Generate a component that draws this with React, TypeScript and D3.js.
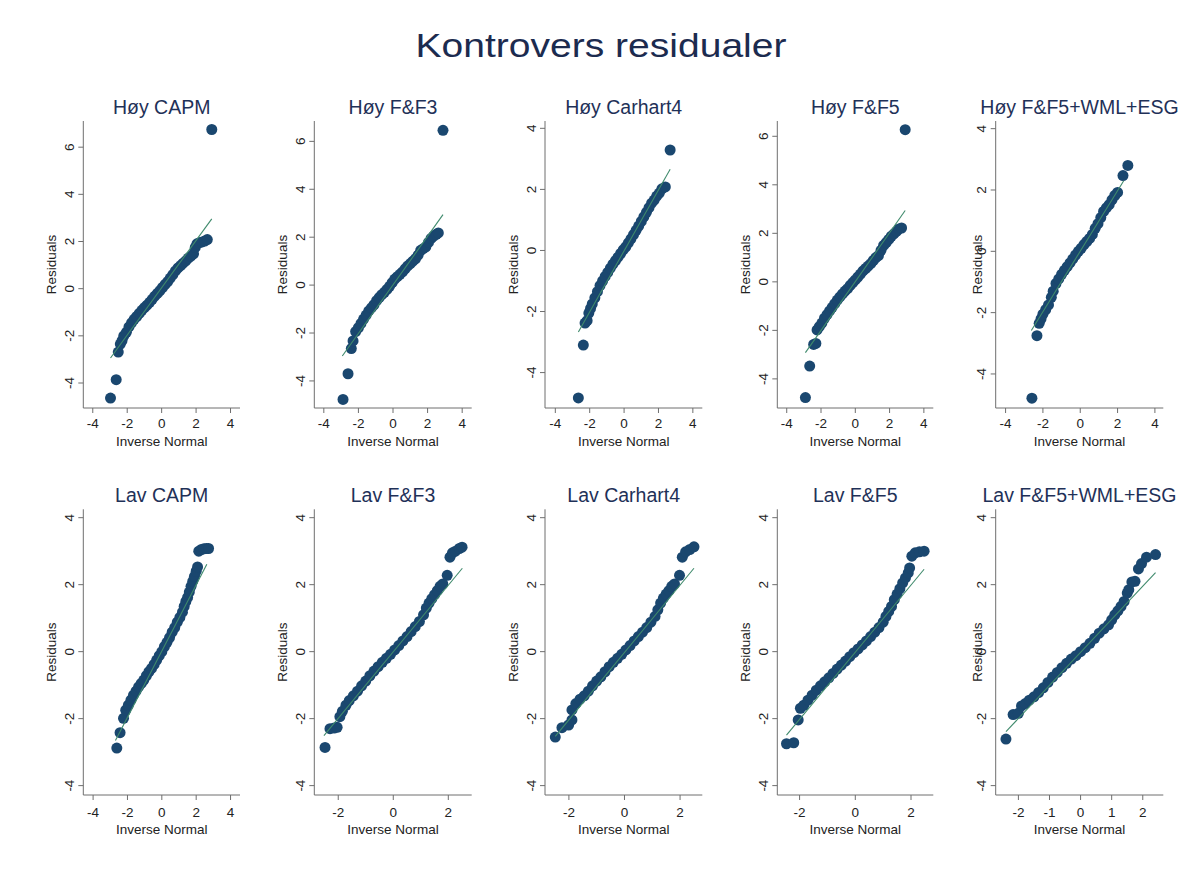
import React from "react";
import * as d3 from "d3";

// ---------- DATA ([inverse normal, residual]) ----------
const panelTitles = [
  "Høy CAPM", "Høy F&F3", "Høy Carhart4", "Høy F&F5", "Høy F&F5+WML+ESG",
  "Lav CAPM", "Lav F&F3", "Lav Carhart4", "Lav F&F5", "Lav F&F5+WML+ESG",
];

const hoyCapm: [number, number][] = [
  [-2.97, -4.64], [-2.64, -3.86], [-2.52, -2.69], [-2.4, -2.35],
  [-2.3, -2.2], [-2.2, -2.0], [-2.05, -1.85], [-1.9, -1.62], [-1.75, -1.45], [-1.6, -1.3],
  [-1.45, -1.18], [-1.3, -1.05], [-1.15, -0.92], [-1.0, -0.8], [-0.85, -0.7], [-0.7, -0.58],
  [-0.55, -0.45], [-0.4, -0.32], [-0.25, -0.2], [-0.1, -0.08], [0.05, 0.05], [0.2, 0.18],
  [0.35, 0.3], [0.5, 0.45], [0.65, 0.6], [0.8, 0.75], [0.95, 0.88], [1.1, 0.98], [1.25, 1.08],
  [1.4, 1.18], [1.55, 1.3], [1.7, 1.38], [1.85, 1.48], [1.95, 1.75], [2.05, 1.9], [2.2, 1.95],
  [2.35, 1.98], [2.5, 2.02], [2.65, 2.08], [2.91, 6.75],
];
const hoyFF3: [number, number][] = [
  [-2.89, -4.77], [-2.6, -3.7], [-2.41, -2.65], [-2.31, -2.33], [-2.16, -1.94],
  [-2.0, -1.78], [-1.85, -1.6], [-1.7, -1.42], [-1.55, -1.25], [-1.4, -1.08], [-1.25, -0.95],
  [-1.1, -0.82], [-0.95, -0.65], [-0.8, -0.52], [-0.65, -0.4], [-0.5, -0.3], [-0.35, -0.18],
  [-0.2, -0.05], [-0.05, 0.1], [0.1, 0.25], [0.25, 0.35], [0.4, 0.45], [0.55, 0.55], [0.7, 0.68],
  [0.85, 0.8], [1.0, 0.9], [1.15, 1.0], [1.3, 1.1], [1.45, 1.25], [1.6, 1.45], [1.75, 1.52],
  [1.9, 1.6], [2.05, 1.78], [2.2, 1.95], [2.35, 2.05], [2.5, 2.12], [2.62, 2.18], [2.89, 6.46],
];
const hoyCarhart4: [number, number][] = [
  [-2.66, -4.83], [-2.37, -3.1], [-2.27, -2.38], [-2.15, -2.3], [-2.05, -2.05], [-1.95, -1.9],
  [-1.85, -1.75], [-1.7, -1.55], [-1.55, -1.35], [-1.4, -1.15], [-1.25, -1.0], [-1.1, -0.85],
  [-0.95, -0.72], [-0.8, -0.58], [-0.65, -0.45], [-0.5, -0.33], [-0.35, -0.22], [-0.2, -0.1],
  [-0.05, 0.02], [0.1, 0.12], [0.25, 0.25], [0.4, 0.38], [0.55, 0.52], [0.7, 0.66], [0.85, 0.8],
  [1.0, 0.95], [1.15, 1.1], [1.3, 1.25], [1.45, 1.4], [1.6, 1.55], [1.75, 1.65], [1.9, 1.78],
  [2.05, 1.88], [2.2, 2.02], [2.4, 2.08], [2.68, 3.29],
];
const hoyFF5: [number, number][] = [
  [-2.91, -4.77], [-2.66, -3.47], [-2.43, -2.58], [-2.3, -2.54],
  [-2.23, -1.98], [-2.1, -1.85], [-1.95, -1.7], [-1.8, -1.5], [-1.65, -1.35], [-1.5, -1.2],
  [-1.35, -1.05], [-1.2, -0.9], [-1.05, -0.75], [-0.9, -0.62], [-0.75, -0.5], [-0.6, -0.38],
  [-0.45, -0.28], [-0.3, -0.15], [-0.15, -0.03], [0.0, 0.08], [0.15, 0.2], [0.3, 0.32],
  [0.45, 0.45], [0.6, 0.55], [0.75, 0.65], [0.9, 0.75], [1.05, 0.88], [1.2, 1.0], [1.35, 1.08],
  [1.5, 1.3], [1.65, 1.5], [1.8, 1.62], [1.95, 1.75], [2.1, 1.88], [2.25, 1.98], [2.4, 2.08],
  [2.55, 2.18], [2.7, 2.22], [2.91, 6.27],
];
const hoyFF5Wml: [number, number][] = [
  [-2.59, -4.79], [-2.32, -2.75],
  [-2.2, -2.35], [-2.1, -2.2], [-2.0, -2.05], [-1.85, -1.9], [-1.7, -1.75], [-1.55, -1.5],
  [-1.45, -1.3], [-1.3, -1.05], [-1.15, -0.9], [-1.0, -0.75], [-0.85, -0.62], [-0.7, -0.5],
  [-0.55, -0.38], [-0.4, -0.25], [-0.25, -0.12], [-0.1, 0.0], [0.05, 0.1], [0.2, 0.22],
  [0.35, 0.32], [0.5, 0.42], [0.65, 0.55], [0.8, 0.75], [0.95, 0.9], [1.1, 1.1], [1.25, 1.3],
  [1.4, 1.42], [1.55, 1.52], [1.7, 1.68], [1.85, 1.82], [2.0, 1.92], [2.29, 2.47], [2.55, 2.8],
];
const lavCapm: [number, number][] = [
  [-2.62, -2.88], [-2.43, -2.42],
  [-2.23, -1.99], [-2.1, -1.75], [-1.95, -1.6], [-1.8, -1.45], [-1.65, -1.3], [-1.5, -1.18],
  [-1.35, -1.05], [-1.2, -0.95], [-1.05, -0.85], [-0.9, -0.72], [-0.75, -0.6], [-0.6, -0.5],
  [-0.45, -0.38], [-0.3, -0.25], [-0.15, -0.12], [0.0, 0.0], [0.15, 0.15], [0.3, 0.28],
  [0.45, 0.42], [0.6, 0.58], [0.75, 0.72], [0.9, 0.88], [1.05, 1.02], [1.2, 1.18], [1.3, 1.35],
  [1.4, 1.5], [1.5, 1.62], [1.6, 1.78], [1.7, 1.95], [1.8, 2.1], [1.9, 2.25], [2.0, 2.4],
  [2.08, 2.53], [2.15, 3.0], [2.3, 3.05], [2.45, 3.07], [2.6, 3.08], [2.72, 3.08],
];
const lavFF3: [number, number][] = [
  [-2.48, -2.86], [-2.3, -2.3], [-2.15, -2.28], [-2.04, -2.26],
  [-1.94, -1.94], [-1.85, -1.78], [-1.72, -1.6], [-1.6, -1.46], [-1.45, -1.32], [-1.3, -1.18],
  [-1.15, -1.02], [-1.0, -0.88], [-0.85, -0.72], [-0.7, -0.58], [-0.55, -0.45], [-0.4, -0.32],
  [-0.25, -0.2], [-0.1, -0.08], [0.05, 0.05], [0.2, 0.18], [0.35, 0.32], [0.5, 0.45],
  [0.65, 0.6], [0.8, 0.75], [0.95, 0.9], [1.1, 1.1], [1.2, 1.3], [1.3, 1.45], [1.4, 1.58],
  [1.5, 1.7], [1.6, 1.82], [1.7, 1.95], [1.8, 2.02], [1.96, 2.28], [2.06, 2.82], [2.15, 2.95],
  [2.26, 3.0], [2.4, 3.08], [2.5, 3.12],
];
const lavCarhart4: [number, number][] = [
  [-2.49, -2.55], [-2.25, -2.27], [-2.01, -2.19], [-1.89, -2.04],
  [-1.89, -1.74], [-1.75, -1.55], [-1.6, -1.42], [-1.45, -1.32], [-1.3, -1.18], [-1.15, -1.02],
  [-1.0, -0.88], [-0.85, -0.75], [-0.7, -0.6], [-0.55, -0.45], [-0.4, -0.32], [-0.25, -0.2],
  [-0.1, -0.08], [0.05, 0.05], [0.2, 0.18], [0.35, 0.32], [0.5, 0.45], [0.65, 0.58],
  [0.8, 0.72], [0.95, 0.88], [1.1, 1.05], [1.2, 1.25], [1.3, 1.45], [1.4, 1.6], [1.5, 1.72],
  [1.6, 1.82], [1.7, 1.95], [1.8, 2.02], [1.98, 2.28], [2.08, 2.82], [2.2, 2.98], [2.35, 3.05],
  [2.5, 3.13],
];
const lavFF5: [number, number][] = [
  [-2.47, -2.75], [-2.21, -2.72], [-2.05, -2.04],
  [-1.97, -1.69], [-1.85, -1.6], [-1.7, -1.45], [-1.55, -1.3], [-1.4, -1.15], [-1.25, -1.02],
  [-1.1, -0.9], [-0.95, -0.78], [-0.8, -0.65], [-0.65, -0.52], [-0.5, -0.4], [-0.35, -0.28],
  [-0.2, -0.15], [-0.05, -0.03], [0.1, 0.08], [0.25, 0.2], [0.4, 0.32], [0.55, 0.45],
  [0.7, 0.58], [0.85, 0.72], [1.0, 0.88], [1.1, 1.05], [1.2, 1.2], [1.3, 1.35], [1.4, 1.55],
  [1.5, 1.72], [1.6, 1.88], [1.7, 2.05], [1.8, 2.2], [1.9, 2.35], [1.95, 2.5], [2.03, 2.85],
  [2.15, 2.95], [2.3, 2.98], [2.47, 3.0],
];
const lavFF5Wml: [number, number][] = [
  [-2.4, -2.61], [-2.17, -1.88],
  [-2.0, -1.84], [-1.9, -1.62], [-1.78, -1.55], [-1.65, -1.45], [-1.5, -1.35], [-1.35, -1.22],
  [-1.2, -1.08], [-1.05, -0.92], [-0.9, -0.76], [-0.75, -0.62], [-0.6, -0.48], [-0.45, -0.35],
  [-0.3, -0.22], [-0.15, -0.12], [0.0, 0.0], [0.15, 0.12], [0.3, 0.25], [0.45, 0.4],
  [0.6, 0.55], [0.75, 0.68], [0.9, 0.8], [1.0, 0.95], [1.1, 1.1], [1.2, 1.22], [1.3, 1.35],
  [1.4, 1.5], [1.5, 1.75], [1.55, 1.85], [1.65, 2.08], [1.75, 2.1], [1.86, 2.47], [1.96, 2.63],
  [2.12, 2.82], [2.41, 2.9],
];
const panelPoints = [hoyCapm, hoyFF3, hoyCarhart4, hoyFF5, hoyFF5Wml, lavCapm, lavFF3, lavCarhart4, lavFF5, lavFF5Wml];

// fitted normal reference lines: [x0, y0, x1, y1]
const fitLines: [number, number, number, number][] = [
  [-2.97, -2.94, 2.91, 2.96],
  [-2.93, -2.96, 2.89, 2.94],
  [-2.66, -2.67, 2.68, 2.66],
  [-2.91, -2.92, 2.91, 2.94],
  [-2.62, -2.58, 2.33, 2.3],
  [-2.7, -2.65, 2.62, 2.61],
  [-2.52, -2.51, 2.51, 2.49],
  [-2.49, -2.53, 2.5, 2.49],
  [-2.47, -2.49, 2.47, 2.46],
  [-2.4, -2.39, 2.41, 2.36],
];

// axis ranges and ticks
const xDomains: [number, number][] = [
  [-4.55, 4.55], [-4.55, 4.55], [-4.6, 4.55], [-4.55, 4.55], [-4.53, 4.45],
  [-4.57, 4.55], [-2.87, 2.85], [-2.86, 2.8], [-2.8, 2.8], [-2.73, 2.66],
];
const yDomains: [number, number][] = [
  [-5.06, 7.11], [-5.13, 6.85], [-5.16, 4.24], [-5.2, 6.63], [-5.11, 4.25],
  [-4.28, 4.25], [-4.28, 4.25], [-4.28, 4.25], [-4.28, 4.25], [-4.28, 4.25],
];
const xTickSets = [
  [-4, -2, 0, 2, 4], [-4, -2, 0, 2, 4], [-4, -2, 0, 2, 4], [-4, -2, 0, 2, 4], [-4, -2, 0, 2, 4],
  [-4, -2, 0, 2, 4], [-2, 0, 2], [-2, 0, 2], [-2, 0, 2], [-2, -1, 0, 1, 2],
];
const yTickSets = [
  [-4, -2, 0, 2, 4, 6], [-4, -2, 0, 2, 4, 6], [-4, -2, 0, 2, 4], [-4, -2, 0, 2, 4, 6], [-4, -2, 0, 2, 4],
  [-4, -2, 0, 2, 4], [-4, -2, 0, 2, 4], [-4, -2, 0, 2, 4], [-4, -2, 0, 2, 4], [-4, -2, 0, 2, 4],
];

// ---------- LAYOUT ----------
const W = 1196;
const H = 870;
const colLeft = [83.3, 314.3, 545, 777.3, 995.7];
const colRight = [240, 471.7, 702.3, 933.3, 1163.3];
const rowTop = [121, 509.3];
const rowBottom = [408, 795];
const yTitleOffset = [32.6, 32.6, 31.7, 32.3, 19];
const FONT = "'Liberation Sans', Arial, Helvetica, sans-serif";
const NAVY = "#1a476f";
const LINE = "#3f8a6c";
const AXIS = "#6e6e6e";
const TITLE_C = "#1f3158";

function Panel({ i }: { i: number }) {
  const col = i % 5;
  const row = Math.floor(i / 5);
  const left = colLeft[col];
  const right = colRight[col];
  const top = rowTop[row];
  const bottom = rowBottom[row];
  const x = d3.scaleLinear().domain(xDomains[i]).range([left, right]);
  const y = d3.scaleLinear().domain(yDomains[i]).range([bottom, top]);
  const [lx0, ly0, lx1, ly1] = fitLines[i];
  const line = d3.line<[number, number]>().x((d) => x(d[0])).y((d) => y(d[1]));
  const cx = (left + right) / 2;
  const cy = (top + bottom) / 2;
  const tickOff = row === 0 ? 20 : 21.5;
  const titleOff = row === 0 ? 37.5 : 39;
  return (
    <g>
      <text x={cx} y={top - (row === 0 ? 7.5 : 7.3)} textAnchor="middle" fontSize={19.5} fill={TITLE_C} fontFamily={FONT}>
        {panelTitles[i]}
      </text>
      {/* axes */}
      <line x1={left} x2={left} y1={top} y2={bottom} stroke={AXIS} strokeWidth={1} />
      <line x1={left} x2={right} y1={bottom} y2={bottom} stroke={AXIS} strokeWidth={1} />
      {yTickSets[i].map((t) => (
        <g key={"y" + t}>
          <line x1={left - 5} x2={left} y1={y(t)} y2={y(t)} stroke={AXIS} strokeWidth={1} />
          <text
            transform={`translate(${left - 9.5},${y(t)}) rotate(-90)`}
            textAnchor="middle"
            fontSize={13.5}
            fill="#222"
            fontFamily={FONT}
          >
            {t}
          </text>
        </g>
      ))}
      {xTickSets[i].map((t) => (
        <g key={"x" + t}>
          <line x1={x(t)} x2={x(t)} y1={bottom} y2={bottom + 5} stroke={AXIS} strokeWidth={1} />
          <text x={x(t)} y={bottom + tickOff} textAnchor="middle" fontSize={13.5} fill="#222" fontFamily={FONT}>
            {t}
          </text>
        </g>
      ))}
      <text
        transform={`translate(${left - yTitleOffset[col] + 5},${cy}) rotate(-90)`}
        textAnchor="middle"
        fontSize={13.5}
        fill="#222"
        fontFamily={FONT}
      >
        Residuals
      </text>
      <text x={cx} y={bottom + titleOff} textAnchor="middle" fontSize={13.5} fill="#222" fontFamily={FONT}>
        Inverse Normal
      </text>
      {/* points */}
      {panelPoints[i].map((p, k) => (
        <circle key={k} cx={x(p[0])} cy={y(p[1])} r={5.5} fill={NAVY} />
      ))}
      {/* reference line */}
      <path d={line([[lx0, ly0], [lx1, ly1]]) || ""} stroke={LINE} strokeWidth={1.1} fill="none" />
    </g>
  );
}

export default function App() {
  return (
    <svg
      width={W}
      height={H}
      viewBox={`0 0 ${W} ${H}`}
      style={{ position: "absolute", left: 0, top: 0, background: "#fff" }}
    >
      <rect x={0} y={0} width={W} height={H} fill="#fff" />
      <text
        x={601}
        y={56.5}
        textAnchor="middle"
        fontSize={33}
        fill="#1c2b4f"
        fontFamily={FONT}
        textLength={371}
        lengthAdjust="spacingAndGlyphs"
      >
        Kontrovers residualer
      </text>
      {panelTitles.map((_, i) => (
        <Panel key={i} i={i} />
      ))}
    </svg>
  );
}
